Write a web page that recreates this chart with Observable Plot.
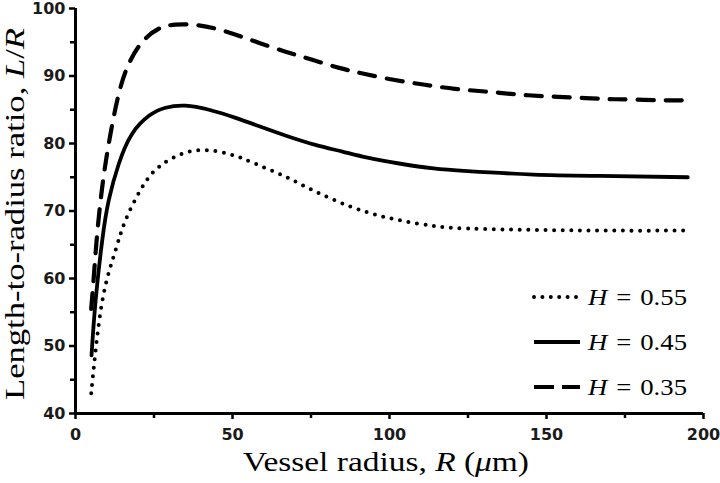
<!DOCTYPE html>
<html><head><meta charset="utf-8">
<script src="https://cdn.jsdelivr.net/npm/d3@7"></script>
<script src="https://cdn.jsdelivr.net/npm/@observablehq/plot@0.6"></script>
<style>
body{margin:0;background:#fff;}
#chart{position:relative;width:720px;height:483px;}
</style></head><body><div id="chart"></div>
<script>
// Series: length-to-radius ratio L/R vs vessel radius R (µm), for three haematocrit values H
const seriesLabels = ["0.55", "0.45", "0.35"];

const r055 = [5, 6.4, 9, 12.7, 15.9, 21.2, 26.5, 34, 42, 50, 57.3, 65.8, 72, 82, 93, 103.5, 114, 125, 146, 170, 195];
const l055 = [43.0, 49.3, 57.8, 64.1, 68.6, 73.5, 76.5, 78.5, 79.0, 78.3, 77.0, 75.3, 73.9, 71.7, 69.8, 68.6, 67.8, 67.4, 67.2, 67.1, 67.1];

const r045 = [5.1, 6.4, 8.5, 10.6, 13.8, 18, 23.4, 28.7, 35, 42.5, 51, 59.4, 68, 76.4, 85, 93, 103.5, 114, 124.8, 145.9, 167, 195];
const l045 = [48.6, 56.7, 65.6, 71.6, 77.0, 81.4, 84.1, 85.3, 85.6, 85.0, 83.8, 82.4, 81.0, 79.8, 78.8, 77.9, 77.0, 76.3, 75.9, 75.4, 75.2, 75.0];

const r035 = [5, 5.9, 6.9, 8.5, 10.6, 13.3, 16.5, 21.2, 26.5, 31.8, 39.3, 47.8, 57.3, 66.9, 75.4, 84, 92.2, 101.7, 111.3, 120.8, 130.4, 139.9, 149.5, 159, 168.6, 178, 187.7, 195];
const l035 = [55.5, 60.7, 66.6, 73.5, 80, 86.4, 91.3, 95, 97, 97.6, 97.5, 96.6, 95.1, 93.6, 92.4, 91.2, 90.3, 89.4, 88.7, 88.1, 87.7, 87.3, 87.0, 86.8, 86.6, 86.5, 86.4, 86.4];

const xMajorTicks = [0, 50, 100, 150, 200];
const xMinorTicks = [25, 75, 125, 175];
const yMajorTicks = [40, 50, 60, 70, 80, 90, 100];
const yMinorTicks = [45, 55, 65, 75, 85, 95];

const toRows = (rs, ls) => rs.map((r, i) => ({r, l: ls[i]}));
const d055 = toRows(r055, l055);
const d045 = toRows(r045, l045);
const d035 = toRows(r035, l035);

const lineStyles = [
  {dash: "0,8.6", legendDash: "0,8.4", width: 4, cap: "round"},
  {dash: null, legendDash: null, width: 3.8, cap: "butt"},
  {dash: "16,12", legendDash: "20,8", width: 4.2, cap: "butt"}
];

const tickFont = {fontSize: 16, fontWeight: "bold", fontFamily: "'DejaVu Sans', sans-serif", fill: "#1a1a1a"};

const svg = Plot.plot({
  width: 720, height: 483,
  marginLeft: 75, marginRight: 17, marginTop: 8, marginBottom: 70,
  x: {domain: [0, 200]},
  y: {domain: [40, 100]},
  style: {background: "#fff", overflow: "visible"},
  marks: [
    Plot.axisX({ticks: xMajorTicks, tickSize: 6, tickPadding: 9, strokeWidth: 2.5, label: null, ...tickFont}),
    Plot.axisX({ticks: xMinorTicks, tickSize: 5, strokeWidth: 2.5, tickFormat: () => "", label: null}),
    Plot.axisY({ticks: yMajorTicks, tickSize: 6, tickPadding: 4, strokeWidth: 2.5, label: null, ...tickFont}),
    Plot.axisY({ticks: yMinorTicks, tickSize: 5, strokeWidth: 2.5, tickFormat: () => "", label: null}),
    Plot.ruleY([40], {stroke: "#000", strokeWidth: 3}),
    Plot.ruleX([0], {stroke: "#000", strokeWidth: 3}),
    Plot.line(d055, {x: "r", y: "l", stroke: "#000", strokeWidth: lineStyles[0].width, strokeDasharray: lineStyles[0].dash, strokeLinecap: "round", curve: "natural"}),
    Plot.line(d045, {x: "r", y: "l", stroke: "#000", strokeWidth: lineStyles[1].width, curve: "natural"}),
    Plot.line(d035, {x: "r", y: "l", stroke: "#000", strokeWidth: lineStyles[2].width, strokeDasharray: lineStyles[2].dash, curve: "natural"})
  ]
});
document.getElementById("chart").appendChild(svg);

const s = d3.select(svg);
const serif = "'Liberation Serif', 'Times New Roman', serif";

// x-axis title
const xt = s.append("text").attr("x", 386).attr("y", 471).attr("text-anchor", "middle")
  .attr("font-family", serif).attr("font-size", 28).attr("fill", "#000")
  .attr("textLength", 286).attr("lengthAdjust", "spacingAndGlyphs");
xt.append("tspan").text("Vessel radius, ");
xt.append("tspan").attr("font-style", "italic").text("R");
xt.append("tspan").text(" (");
xt.append("tspan").attr("font-style", "italic").text("μ");
xt.append("tspan").text("m)");

// y-axis title
const yt = s.append("text").attr("transform", "translate(24,214) rotate(-90)").attr("text-anchor", "middle")
  .attr("font-family", serif).attr("font-size", 27).attr("fill", "#000")
  .attr("textLength", 372).attr("lengthAdjust", "spacingAndGlyphs");
yt.append("tspan").text("Length-to-radius ratio, ");
yt.append("tspan").attr("font-style", "italic").text("L");
yt.append("tspan").text("/");
yt.append("tspan").attr("font-style", "italic").text("R");

// legend
const lg = s.append("g");
const rowY = [297, 342, 387];
seriesLabels.forEach((lab, i) => {
  const st = lineStyles[i];
  lg.append("line").attr("x1", 534).attr("x2", 580).attr("y1", rowY[i]).attr("y2", rowY[i])
    .attr("stroke", "#000").attr("stroke-width", st.width)
    .attr("stroke-dasharray", st.legendDash).attr("stroke-linecap", st.cap);
  const t = lg.append("text").attr("x", 588).attr("y", rowY[i] + 8).attr("text-anchor", "start")
    .attr("font-family", serif).attr("font-size", 24).attr("fill", "#000")
    .attr("textLength", 99).attr("lengthAdjust", "spacingAndGlyphs");
  t.append("tspan").attr("font-style", "italic").text("H");
  t.append("tspan").attr("dx", 8).text("=");
  t.append("tspan").attr("dx", 8).text(lab);
});
</script></body></html>
